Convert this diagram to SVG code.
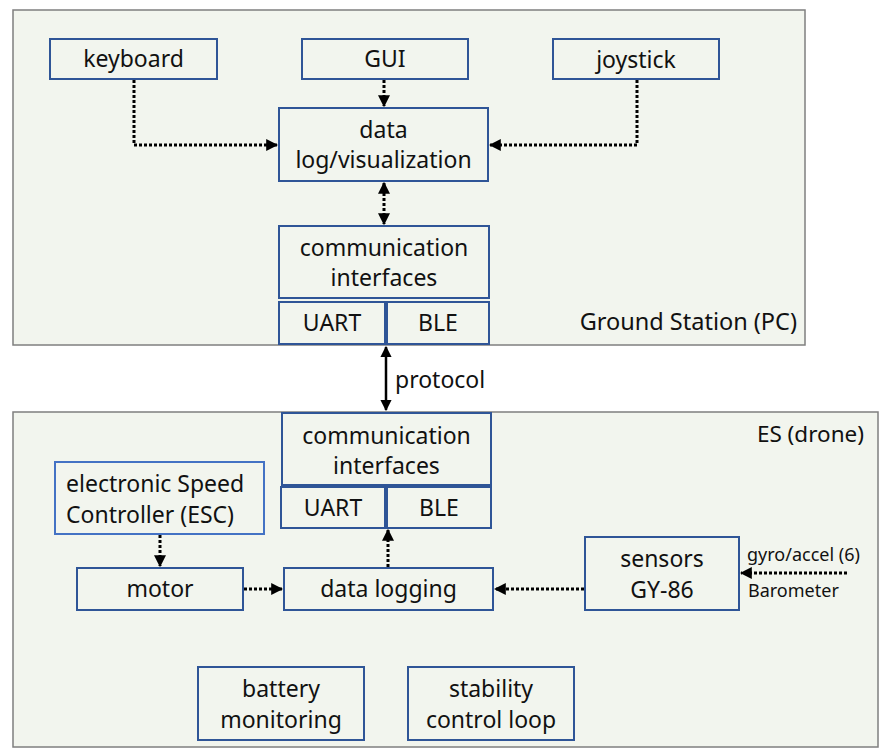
<svg xmlns="http://www.w3.org/2000/svg" width="893" height="755" viewBox="0 0 893 755">
<defs>
<marker id="ah" viewBox="0 0 10 10" refX="9" refY="5" markerWidth="4" markerHeight="4" orient="auto-start-reverse" markerUnits="strokeWidth">
<path d="M0,0 L10,5 L0,10 z" fill="#000"/>
</marker>
<marker id="ahs" viewBox="0 0 10 10" refX="9" refY="5" markerWidth="4.5" markerHeight="4.5" orient="auto-start-reverse" markerUnits="strokeWidth">
<path d="M0,0 L10,5 L0,10 z" fill="#000"/>
</marker>
</defs>
<style>
.panel{fill:#f2f5ee;stroke:#7f7f7f;stroke-width:1.5}
.box{fill:none;stroke:#2f5597;stroke-width:2}
.box2{fill:none;stroke:#4472c4;stroke-width:2}
text{font-family:"Noto Sans","Open Sans",sans-serif;fill:#111;font-size:23px}
.c{text-anchor:middle}
.r{text-anchor:end}
.sm{font-size:18px}
.dot{fill:none;stroke:#000;stroke-width:3;stroke-dasharray:3 2}
.sol{fill:none;stroke:#000;stroke-width:2.5}
</style>
<rect width="893" height="755" fill="#fff"/>
<g id="ground-station">
<rect class="panel" x="13" y="10" width="792" height="335"/>
<text class="r" x="797" y="330" style="font-size:23.5px">Ground Station (PC)</text>
</g>
<g id="es-drone">
<rect class="panel" x="13" y="412" width="865" height="335"/>
<text class="r" x="864" y="442" style="font-size:22.5px">ES (drone)</text>
</g>
<g id="keyboard"><rect class="box" x="50" y="39" width="167" height="40"/><text class="c" x="133.5" y="67">keyboard</text></g>
<g id="gui"><rect class="box" x="302" y="39" width="166" height="40"/><text class="c" x="385" y="67">GUI</text></g>
<g id="joystick"><rect class="box" x="553" y="39" width="166" height="40"/><text class="c" x="636" y="68">joystick</text></g>
<g id="datalog"><rect class="box" x="279" y="108" width="209" height="73"/><text class="c" x="383.5" y="138">data</text><text class="c" x="383.5" y="168">log/visualization</text></g>
<g id="comm-top"><rect class="box" x="279" y="226" width="210" height="72"/><text class="c" x="384" y="256">communication</text><text class="c" x="384" y="286">interfaces</text></g>
<g id="uart-top"><rect class="box" x="279" y="302" width="106" height="42"/><text class="c" x="332" y="331">UART</text></g>
<g id="ble-top"><rect class="box" x="387" y="302" width="102" height="42"/><text class="c" x="438" y="331">BLE</text></g>
<g id="comm-bot"><rect class="box" x="282" y="413" width="209" height="72"/><text class="c" x="386.5" y="444">communication</text><text class="c" x="386.5" y="474">interfaces</text></g>
<g id="uart-bot"><rect class="box" x="281" y="487" width="104" height="41"/><text class="c" x="333" y="516">UART</text></g>
<g id="ble-bot"><rect class="box" x="387" y="487" width="104" height="41"/><text class="c" x="439" y="516">BLE</text></g>
<g id="esc"><rect class="box2" x="55" y="462" width="209" height="72"/><text x="66" y="492">electronic Speed</text><text x="66" y="523">Controller (ESC)</text></g>
<g id="motor"><rect class="box" x="77" y="568" width="166" height="42"/><text class="c" x="160" y="597">motor</text></g>
<g id="datalogging"><rect class="box" x="284" y="568" width="209" height="42"/><text class="c" x="388.5" y="597">data logging</text></g>
<g id="sensors"><rect class="box" x="585" y="537" width="154" height="73"/><text class="c" x="662" y="567">sensors</text><text class="c" x="662" y="598">GY-86</text></g>
<g id="battery"><rect class="box" x="198" y="667" width="166" height="73"/><text class="c" x="281" y="697">battery</text><text class="c" x="281" y="728">monitoring</text></g>
<g id="stability"><rect class="box" x="408" y="667" width="166" height="73"/><text class="c" x="491" y="697">stability</text><text class="c" x="491" y="728">control loop</text></g>
<g id="connectors">
<path class="dot" d="M134,80 V145 H277" marker-end="url(#ah)"/>
<path class="dot" d="M637,80 V145 H490" marker-end="url(#ah)"/>
<path class="dot" d="M384,80 V106" marker-end="url(#ah)"/>
<path class="dot" d="M384,183 V224" marker-start="url(#ah)" marker-end="url(#ah)"/>
<path class="sol" d="M386,347 V410" marker-start="url(#ahs)" marker-end="url(#ahs)"/>
<path class="dot" d="M160,535 V566" marker-end="url(#ah)"/>
<path class="dot" d="M244,589 H282" marker-end="url(#ah)"/>
<path class="dot" d="M584,589 H495" marker-end="url(#ah)"/>
<path class="dot" d="M388,567 V530" marker-end="url(#ah)"/>
<path class="dot" d="M847,573 H741" marker-end="url(#ah)"/>
</g>
<text x="395" y="388" style="font-size:23px">protocol</text>
<text class="sm" x="747" y="561">gyro/accel (6)</text>
<text class="sm" x="748" y="597">Barometer</text>
</svg>
